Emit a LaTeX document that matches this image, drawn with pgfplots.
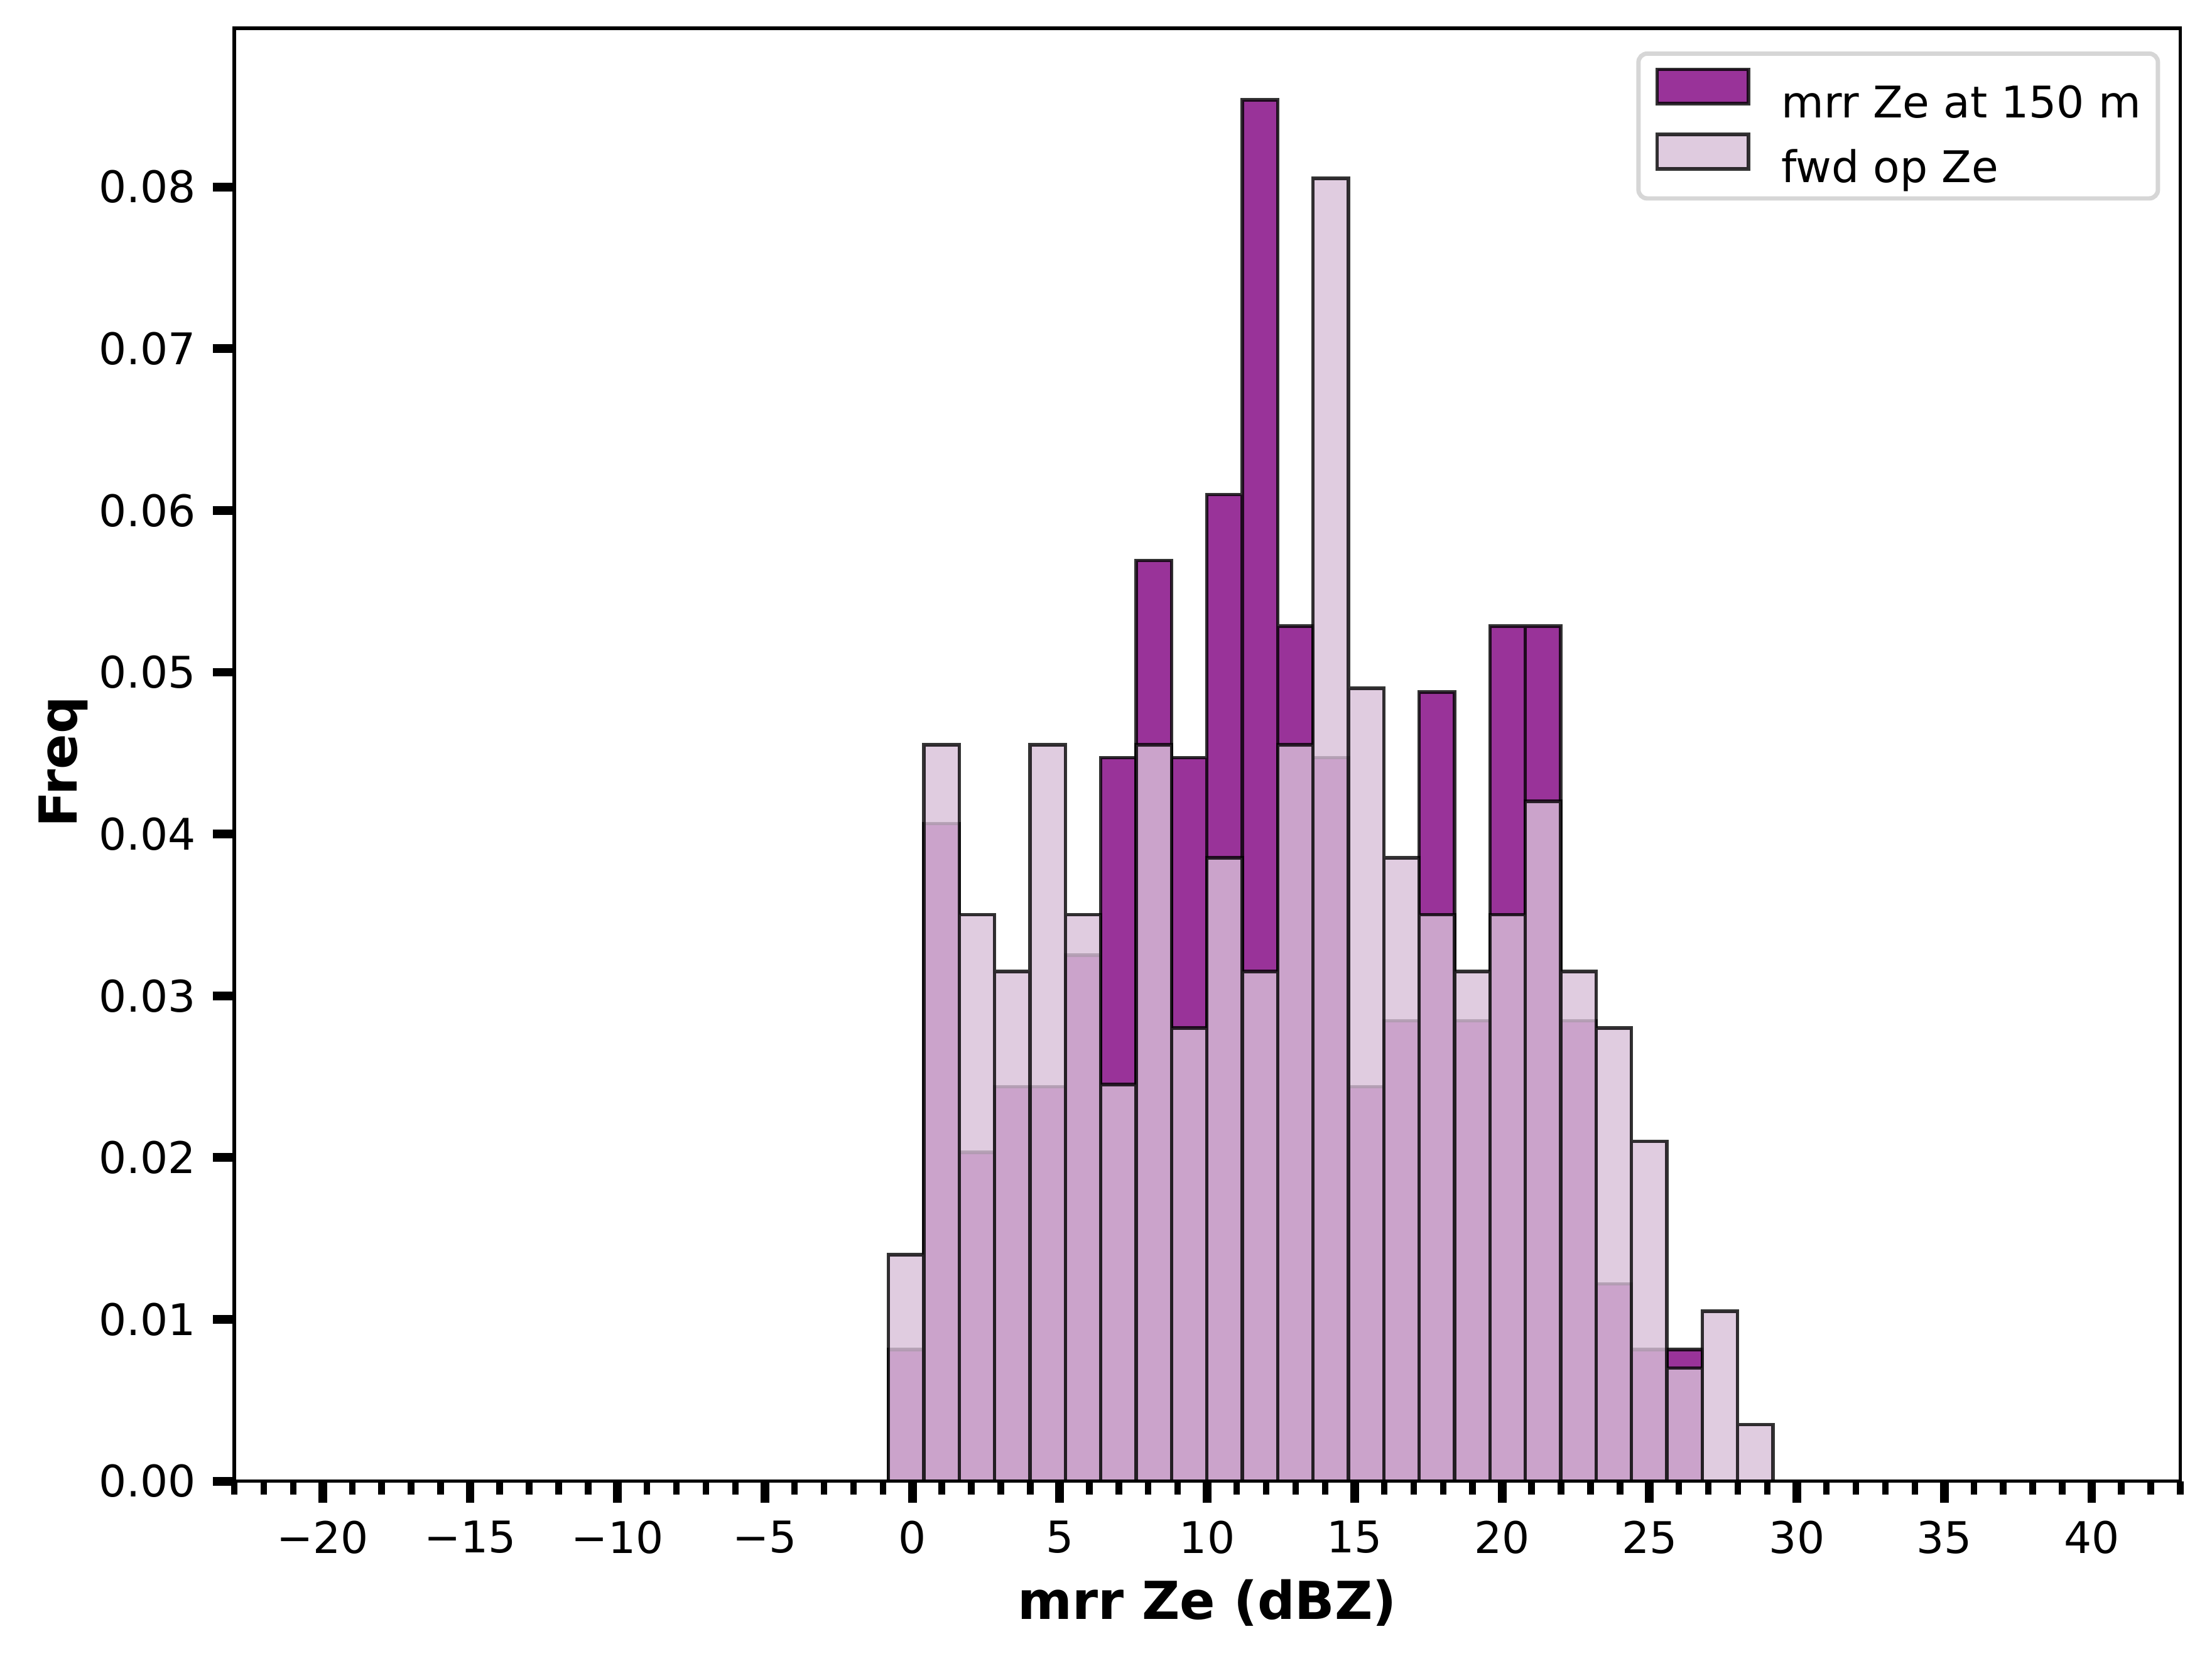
\documentclass[border=0pt]{standalone}
\usepackage{fontspec}
\setmainfont{DejaVu Sans}
\usepackage{pgfplots}
\pgfplotsset{compat=1.18}
\definecolor{mplpurple}{RGB}{128,0,128}
\definecolor{mplthistle}{RGB}{216,191,216}
\definecolor{legframe}{RGB}{214,214,214}
\tikzset{
  mrrbar/.style={fill=mplpurple, fill opacity=0.8, draw=black, draw opacity=0.8, line width=0.8pt},
  fwdbar/.style={fill=mplthistle, fill opacity=0.8, draw=black, draw opacity=0.8, line width=0.8pt},
}
% left bin edge, density
\pgfplotstableread{
x y
-0.81 0.00813
0.39 0.04065
1.59 0.02033
2.79 0.02439
3.99 0.02439
5.19 0.03252
6.39 0.04472
7.59 0.05691
8.79 0.04472
9.99 0.06098
11.19 0.08537
12.39 0.05285
13.59 0.04472
14.79 0.02439
15.99 0.02846
17.19 0.04878
18.39 0.02846
19.59 0.05285
20.79 0.05285
21.99 0.02846
23.19 0.01220
24.39 0.00813
25.59 0.00813
26.79 0.00813
}\mrrdata
\pgfplotstableread{
x y
-0.81 0.01401
0.39 0.04552
1.59 0.03501
2.79 0.03151
3.99 0.04552
5.19 0.03501
6.39 0.02451
7.59 0.04552
8.79 0.02801
9.99 0.03852
11.19 0.03151
12.39 0.04552
13.59 0.08053
14.79 0.04902
15.99 0.03852
17.19 0.03501
18.39 0.03151
19.59 0.03501
20.79 0.04202
21.99 0.03151
23.19 0.02801
24.39 0.02101
25.59 0.00700
26.79 0.01050
27.99 0.00350
29.19 0.00350
}\fwddata
\begin{document}
\begin{tikzpicture}
\begin{axis}[
  scale only axis, width=446.1pt, height=333.1pt,
  xmin=-23, xmax=43, ymin=0, ymax=0.0898,
  axis line style={line width=0.8pt, black},
  axis on top,
  tick align=outside,
  xtick pos=lower, ytick pos=left,
  xtick={-20,-15,-10,-5,0,5,10,15,20,25,30,35,40},
  xticklabels={−20,−15,−10,−5,0,5,10,15,20,25,30,35,40},
  minor xtick={-23,-22,...,43},
  ytick={0,0.01,0.02,0.03,0.04,0.05,0.06,0.07,0.08},
  yticklabels={0.00,0.01,0.02,0.03,0.04,0.05,0.06,0.07,0.08},
  scaled y ticks=false,
  major tick length=4.9pt, minor tick length=3pt,
  tick style={black},
  major tick style={line width=2pt},
  minor tick style={line width=1.5pt},
  xticklabel style={font=\fontsize{10}{12}\selectfont, inner sep=0pt, anchor=north, yshift=-4.0pt},
  yticklabel style={font=\fontsize{10}{12}\selectfont, inner sep=0pt, anchor=east, xshift=-3.7pt},
  xlabel={mrr Ze (dBZ)},
  xlabel style={font=\fontsize{12}{14}\selectfont\bfseries, at={(axis description cs:0.5,-0.0952)}, anchor=base},
  ylabel={Freq},
  ylabel style={font=\fontsize{12}{14}\selectfont\bfseries, at={(axis description cs:-0.0809,0.495)}, anchor=base},
  legend cell align=left,
  legend style={at={(1,1)}, anchor=north east, xshift=-4.6pt, yshift=-5.3pt,
    draw=legframe, line width=1pt, rounded corners=2pt, fill=white,
    inner xsep=3.9pt, inner ysep=3.2pt, row sep=3.1pt,
    font=\fontsize{10}{12}\selectfont,
    nodes={inner sep=0pt, text height=7.5pt, text depth=0.4pt},
    /tikz/every odd column/.append style={column sep=7.2pt}},
]
\addplot[ybar interval, mrrbar,
  legend image code/.code={\draw[mrrbar, sharp corners] (0pt,-0.4pt) rectangle (20.9pt,7.5pt);}]
  table[x=x, y=y] {\mrrdata};
\addlegendentry{mrr Ze at 150 m}
\addplot[ybar interval, fwdbar,
  legend image code/.code={\draw[fwdbar, sharp corners] (0pt,-0.4pt) rectangle (20.9pt,7.5pt);}]
  table[x=x, y=y] {\fwddata};
\addlegendentry{fwd op Ze}
\coordinate (sw) at (rel axis cs:0,0);
\coordinate (ne) at (rel axis cs:1,1);
\end{axis}
\pgfresetboundingbox
\path[use as bounding box] ([shift={(-53.7pt,-41.2pt)}]sw) rectangle ([shift={(7.3pt,6.5pt)}]ne);
\end{tikzpicture}
\end{document}
